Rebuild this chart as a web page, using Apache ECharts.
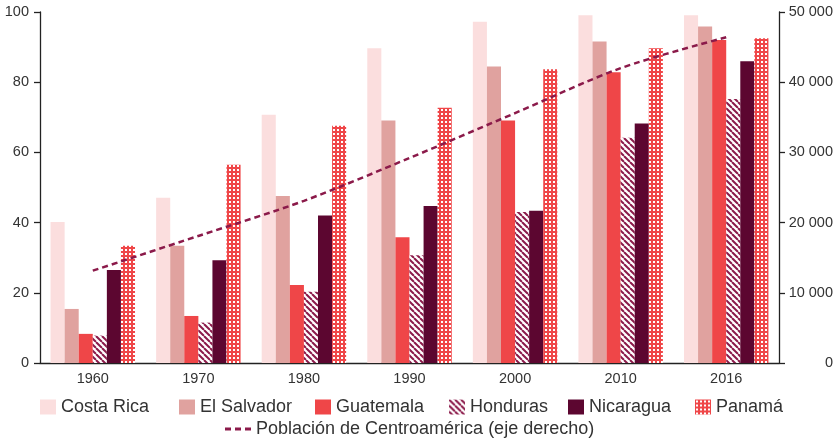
<!DOCTYPE html>
<html>
<head>
<meta charset="utf-8">
<script src="https://cdn.jsdelivr.net/npm/echarts@6/dist/echarts.min.js"></script>
<style>
  html, body { margin: 0; padding: 0; background: #fff; }
  #chart { width: 839px; height: 439px; }
</style>
</head>
<body>
<div id="chart"></div>
<script>
// Years on the category axis
const years = ['1960', '1970', '1980', '1990', '2000', '2010', '2016'];

// Country series (left axis, 0–100)
const costaRica  = [40.2, 47.1, 70.7, 89.7, 97.2, 99.1, 99.1];
const elSalvador = [15.4, 33.4, 47.6, 69.1, 84.5, 91.6, 95.9];
const guatemala  = [8.3, 13.4, 22.2, 35.8, 69.1, 82.8, 92.0];
const honduras   = [7.8, 11.5, 20.3, 30.7, 43.0, 64.2, 75.2];
const nicaragua  = [26.5, 29.3, 42.0, 44.7, 43.4, 68.2, 86.0];
const panama     = [33.4, 56.5, 67.6, 72.7, 83.7, 89.7, 92.5];

// Population of Central America (right axis)
const poblacion = [13150, 18100, 23100, 29200, 35600, 42000, 46400];

// Axis tick labels
const leftTicks = [0, 20, 40, 60, 80, 100];
const rightTicks = [0, 10000, 20000, 30000, 40000, 50000];

const FONT = '"Liberation Sans", Arial, sans-serif';
const RED = '#EF4648';
const MAROON = '#8B1A4A';

// Diagonal hatch pattern (white with maroon stripes)
function hatchPattern() {
  const s = 6;
  const c = document.createElement('canvas');
  c.width = s; c.height = s;
  const g = c.getContext('2d');
  g.fillStyle = '#ffffff';
  g.fillRect(0, 0, s, s);
  g.strokeStyle = MAROON;
  g.lineWidth = 2;
  for (const o of [-s, 0, s]) {
    g.beginPath();
    g.moveTo(o, 0);
    g.lineTo(o + s, s);
    g.stroke();
  }
  return { image: c, repeat: 'repeat' };
}

// Red fill with a grid of white squares
function dotPattern() {
  const s = 4;
  const c = document.createElement('canvas');
  c.width = s; c.height = s;
  const g = c.getContext('2d');
  g.fillStyle = RED;
  g.fillRect(0, 0, s, s);
  g.fillStyle = '#ffffff';
  g.fillRect(1, 1, 2, 2);
  return { image: c, repeat: 'repeat' };
}

const chart = echarts.init(document.getElementById('chart'), null, { renderer: 'canvas' });

function bar(name, data, color) {
  return {
    name, type: 'bar', data,
    yAxisIndex: 0,
    barGap: '0%',
    barCategoryGap: '20%',
    itemStyle: { color },
    emphasis: { disabled: true }
  };
}

function legendAt(name, left, top, extra) {
  return Object.assign({
    data: [name],
    left, top,
    padding: 0,
    icon: 'rect',
    itemWidth: 16,
    itemHeight: 15,
    selectedMode: false,
    textStyle: { fontFamily: FONT, fontSize: 18, color: '#333' }
  }, extra || {});
}

const spaceThousands = v => String(v).replace(/\B(?=(\d{3})+(?!\d))/g, ' ');

// Three short dashes for the population legend key
const dashIcon = 'path://M0,0h6v3h-6z M10,0h6v3h-6z M20,0h6v3h-6z';

chart.setOption({
  animation: false,
  textStyle: { fontFamily: FONT },
  grid: { left: 40, right: 60, top: 12, bottom: 76 },
  legend: [
    legendAt('Costa Rica', 40, 398),
    legendAt('El Salvador', 179, 398),
    legendAt('Guatemala', 315, 398),
    legendAt('Honduras', 449, 398),
    legendAt('Nicaragua', 568, 398),
    legendAt('Panamá', 695, 398),
    legendAt('Población de Centroamérica (eje derecho)', 225, 420,
      { icon: dashIcon, itemWidth: 26, itemHeight: 3 })
  ],
  xAxis: {
    type: 'category',
    data: years,
    axisLine: { lineStyle: { color: '#222', width: 1.3 } },
    axisTick: { length: 6, lineStyle: { color: '#222', width: 1.3 } },
    axisLabel: { fontSize: 14.5, color: '#333', margin: 8 }
  },
  yAxis: [
    {
      type: 'value', min: 0, max: 100, interval: 20,
      axisLine: { show: true, lineStyle: { color: '#222', width: 1.3 } },
      axisTick: { show: true, length: 6, lineStyle: { color: '#222', width: 1.3 } },
      splitLine: { show: false },
      axisLabel: {
        fontSize: 14.5, color: '#333', margin: 11,
        formatter: v => leftTicks.includes(v) ? String(v) : ''
      }
    },
    {
      type: 'value', min: 0, max: 50000, interval: 10000, position: 'right',
      axisLine: { show: true, lineStyle: { color: '#222', width: 1.3 } },
      axisTick: { show: true, length: 6, lineStyle: { color: '#222', width: 1.3 } },
      splitLine: { show: false },
      axisLabel: {
        fontSize: 14.5, color: '#333', margin: 54, align: 'right',
        formatter: v => rightTicks.includes(v) ? spaceThousands(v) : ''
      }
    }
  ],
  series: [
    bar('Costa Rica', costaRica, '#FBDEDE'),
    bar('El Salvador', elSalvador, '#E0A29F'),
    bar('Guatemala', guatemala, RED),
    bar('Honduras', honduras, hatchPattern()),
    bar('Nicaragua', nicaragua, '#5C0630'),
    bar('Panamá', panama, dotPattern()),
    {
      name: 'Población de Centroamérica (eje derecho)',
      type: 'line',
      yAxisIndex: 1,
      data: poblacion,
      symbol: 'none',
      smooth: 0.3,
      lineStyle: { color: MAROON, width: 2.5, type: [6, 4] },
      itemStyle: { color: MAROON },
      emphasis: { disabled: true },
      z: 5
    }
  ]
});
</script>
</body>
</html>
